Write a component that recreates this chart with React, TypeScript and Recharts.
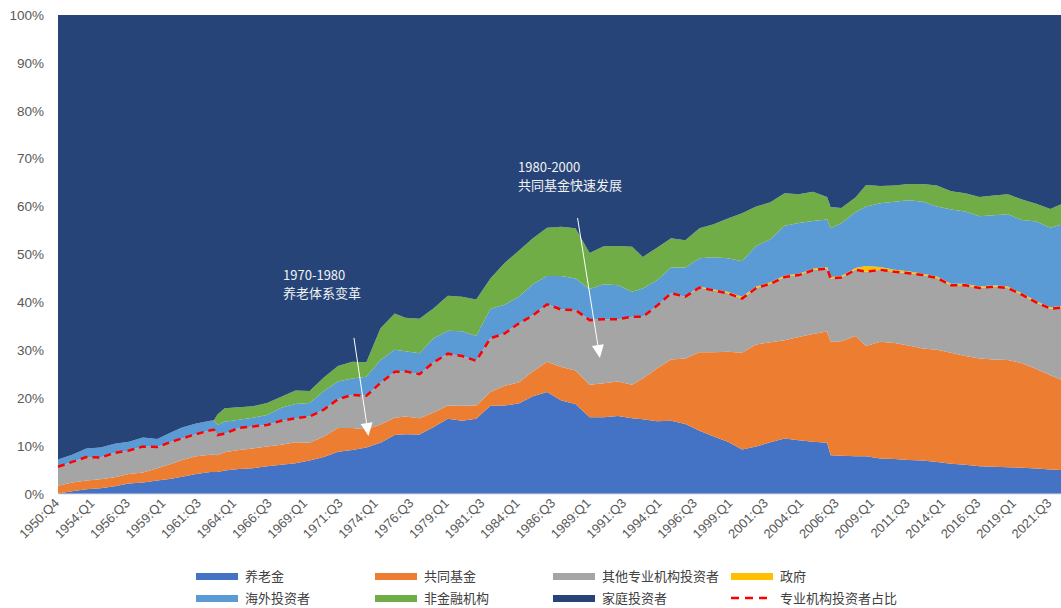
import React from 'react';
import { ComposedChart, Area, Line, XAxis, YAxis, ReferenceLine, ReferenceDot } from 'recharts';

// quarter index: 0 = 1950:Q4, 1 = 1951:Q4, 2 = 1952:Q1, then one step per quarter (283 = 2022:Q2)
const quarterIdx = [
  0, 4, 8, 12, 16, 20, 24, 28, 32, 35, 39, 43, 44, 45, 47, 51, 55, 59, 63, 67, 71, 75, 79, 83, 87,
  91, 95, 98, 102, 106, 110, 114, 118, 122, 126, 130, 134, 138, 142, 146, 150, 154, 158, 162, 165,
  169, 173, 177, 181, 185, 189, 193, 197, 201, 205, 209, 213, 217, 218, 221, 225, 228, 232, 236,
  240, 244, 248, 252, 256, 260, 264, 268, 272, 276, 280, 283,
];

// shares of US equity held, %
const pension = [
  0.1, 0.6, 1.0, 1.2, 1.6, 2.2, 2.4, 2.8, 3.2, 3.6, 4.2, 4.6, 4.6, 4.6, 4.9, 5.2, 5.4, 5.8, 6.1, 6.4,
  7.0, 7.7, 8.8, 9.2, 9.7, 10.7, 12.3, 12.5, 12.4, 14.0, 15.7, 15.3, 15.7, 18.4, 18.5, 18.9, 20.4,
  21.3, 19.5, 18.8, 16.0, 16.0, 16.3, 15.8, 15.6, 15.2, 15.3, 14.6, 13.2, 12.0, 10.9, 9.3, 9.9, 10.8,
  11.6, 11.2, 10.9, 10.7, 8.1, 8.0, 7.9, 7.9, 7.4, 7.3, 7.1, 7.0, 6.7, 6.3, 6.1, 5.8, 5.7, 5.6, 5.5,
  5.3, 5.1, 5.0,
];
const mutualFund = [
  1.6, 1.8, 1.8, 1.9, 1.9, 2.0, 2.1, 2.6, 3.1, 3.5, 3.7, 3.6, 3.6, 3.5, 3.8, 4.0, 4.1, 4.1, 4.2, 4.4,
  3.7, 4.3, 5.0, 4.6, 3.8, 3.8, 3.6, 3.7, 3.4, 3.0, 2.8, 3.1, 2.8, 2.9, 4.1, 4.4, 5.2, 6.3, 7.0, 7.0,
  6.8, 7.1, 7.2, 7.0, 8.5, 11.0, 12.8, 13.7, 16.4, 17.6, 18.8, 20.2, 21.3, 20.9, 20.5, 21.6, 22.5,
  23.2, 23.7, 23.9, 25.1, 23.0, 24.4, 24.2, 23.9, 23.4, 23.4, 23.2, 22.7, 22.5, 22.4, 22.4, 21.8,
  20.8, 19.7, 18.9,
];
const otherInst = [
  4.0, 4.3, 4.9, 4.5, 5.1, 4.9, 5.4, 4.4, 4.6, 4.5, 4.6, 5.1, 5.2, 4.2, 3.9, 4.6, 4.6, 4.5, 5.0, 5.0,
  5.5, 5.6, 6.0, 6.9, 7.0, 8.7, 9.6, 9.4, 9.2, 10.5, 10.8, 10.4, 9.3, 11.2, 10.9, 12.3, 11.7, 12.0,
  12.0, 12.6, 13.5, 13.4, 13.0, 14.2, 12.9, 13.1, 13.8, 12.9, 13.5, 12.9, 12.2, 11.3, 11.8, 12.2,
  13.2, 12.9, 13.3, 13.2, 13.2, 13.3, 13.8, 15.5, 15.0, 14.9, 15.1, 15.3, 15.0, 14.1, 14.8, 14.7,
  15.2, 15.0, 14.3, 13.9, 13.9, 15.0,
];
const government = [
  0, 0, 0, 0, 0, 0, 0, 0, 0, 0, 0, 0, 0, 0, 0, 0, 0, 0, 0, 0, 0, 0, 0, 0, 0, 0, 0, 0, 0, 0, 0, 0, 0,
  0, 0, 0, 0, 0, 0, 0, 0, 0, 0, 0, 0, 0, 0, 0, 0.2, 0.2, 0.3, 0.4, 0.3, 0.3, 0.3, 0.3, 0.3, 0.3, 0.3,
  0.3, 0.4, 1.2, 0.6, 0.4, 0.4, 0.3, 0.3, 0.3, 0.3, 0.3, 0.3, 0.3, 0.3, 0.3, 0.3, 0.3,
];
const foreignInv = [
  1.5, 1.5, 1.8, 2.1, 1.9, 1.8, 1.9, 1.7, 2.0, 2.3, 2.2, 2.0, 2.0, 2.1, 2.5, 1.7, 1.8, 2.1, 2.7, 3.0,
  2.8, 3.9, 3.7, 3.4, 4.0, 4.8, 4.6, 4.2, 4.4, 5.0, 4.8, 5.2, 5.2, 6.1, 6.0, 5.6, 6.5, 5.9, 7.0, 6.6,
  6.5, 7.3, 7.1, 5.2, 5.9, 5.3, 5.4, 6.1, 5.9, 6.7, 7.0, 7.4, 8.5, 9.0, 10.4, 10.6, 10.0, 9.9, 10.2,
  11.0, 11.6, 12.4, 13.3, 14.2, 14.8, 15.0, 14.6, 15.5, 15.1, 14.7, 14.6, 15.1, 15.3, 16.6, 16.6,
  17.0,
];
const nonFinancial = [
  0, 0, 0, 0, 0, 0, 0, 0, 0, 0, 0, 0, 0, 2.2, 2.8, 2.6, 2.4, 2.5, 2.3, 2.8, 2.5, 2.8, 3.2, 3.5, 3.0,
  6.6, 7.6, 7.0, 7.2, 6.3, 7.3, 7.2, 7.6, 6.4, 8.7, 9.6, 9.6, 10.1, 10.3, 10.5, 7.5, 7.9, 8.2, 9.4,
  6.6, 6.8, 6.1, 5.7, 6.3, 6.9, 8.3, 10.0, 8.2, 7.7, 6.8, 6.0, 6.1, 4.7, 4.4, 3.2, 3.1, 4.5, 3.6,
  3.4, 3.4, 3.7, 4.4, 3.8, 3.8, 4.0, 4.1, 4.2, 4.3, 3.7, 3.9, 4.3,
];
const household = [
  92.8, 91.8, 90.5, 90.3, 89.5, 89.1, 88.2, 88.5, 87.1, 86.1, 85.3, 84.7, 84.6, 83.4, 82.1, 81.9,
  81.7, 81.0, 79.7, 78.4, 78.5, 75.7, 73.3, 72.4, 72.5, 65.4, 62.3, 63.2, 63.4, 61.2, 58.6, 58.8,
  59.4, 55.0, 51.8, 49.2, 46.6, 44.4, 44.2, 44.5, 49.7, 48.3, 48.2, 48.4, 50.5, 48.6, 46.6, 47.0,
  44.5, 43.7, 42.5, 41.4, 40.0, 39.1, 37.2, 37.4, 36.9, 38.0, 40.1, 40.3, 38.1, 35.5, 35.7, 35.6,
  35.3, 35.3, 35.6, 36.8, 37.2, 38.0, 37.7, 37.4, 38.5, 39.4, 40.5, 39.5,
];

const tickIdx = [
  0, 10, 20, 30, 40, 50, 60, 70, 80, 90, 100, 110, 120, 130, 140, 150, 160, 170, 180, 190, 200, 210,
  220, 230, 240, 250, 260, 270, 280,
];
const tickLabels = [
  '1950:Q4', '1954:Q1', '1956:Q3', '1959:Q1', '1961:Q3', '1964:Q1', '1966:Q3', '1969:Q1', '1971:Q3',
  '1974:Q1', '1976:Q3', '1979:Q1', '1981:Q3', '1984:Q1', '1986:Q3', '1989:Q1', '1991:Q3', '1994:Q1',
  '1996:Q3', '1999:Q1', '2001:Q3', '2004:Q1', '2006:Q3', '2009:Q1', '2011:Q3', '2014:Q1', '2016:Q3',
  '2019:Q1', '2021:Q3',
];
const pctTicks = [0, 10, 20, 30, 40, 50, 60, 70, 80, 90, 100];

const series = [
  { key: 'pension', name: '养老金', color: '#4472C4' },
  { key: 'fund', name: '共同基金', color: '#ED7D31' },
  { key: 'other', name: '其他专业机构投资者', color: '#A5A5A5' },
  { key: 'gov', name: '政府', color: '#FFC000' },
  { key: 'foreign', name: '海外投资者', color: '#5B9BD5' },
  { key: 'nonfin', name: '非金融机构', color: '#70AD47' },
  { key: 'household', name: '家庭投资者', color: '#264478' },
];
const lineName = '专业机构投资者占比';

// annotations, in data coordinates (quarter index, %)
const notes = [
  { text: ['1970-1980', '养老体系变革'], at: { x: 63.5, y: 44.6 }, from: { x: 83.5, y: 32.6 }, to: { x: 87.6, y: 12.1 } },
  { text: ['1980-2000', '共同基金快速发展'], at: { x: 129.8, y: 67.2 }, from: { x: 146.6, y: 57.6 }, to: { x: 152.9, y: 28.4 } },
];

const rows = quarterIdx.map((q, i) => ({
  q,
  pension: pension[i],
  fund: mutualFund[i],
  other: otherInst[i],
  gov: government[i],
  foreign: foreignInv[i],
  nonfin: nonFinancial[i],
  household: household[i],
  inst: Math.round((pension[i] + mutualFund[i] + otherInst[i]) * 10) / 10,
}));

const FONT = '"Liberation Sans", Arial, "Noto Sans CJK SC", sans-serif';
const CJK = '"Noto Sans CJK SC", "Liberation Sans", sans-serif';

function QuarterTick({ x, y, payload }: any) {
  const label = tickLabels[tickIdx.indexOf(payload.value)];
  return (
    <text
      x={x + 2}
      y={y + 2}
      textAnchor="end"
      fill="#595959"
      fontSize={13}
      fontFamily={FONT}
      transform={`rotate(-45, ${x + 2}, ${y + 2})`}
    >
      {label}
    </text>
  );
}

function Arrow(props: any) {
  const { x1, y1, x2, y2 } = props;
  const dx = x2 - x1;
  const dy = y2 - y1;
  const len = Math.sqrt(dx * dx + dy * dy);
  const ux = dx / len;
  const uy = dy / len;
  const bx = x2 - ux * 13;
  const by = y2 - uy * 13;
  return (
    <g>
      <line x1={x1} y1={y1} x2={bx} y2={by} stroke="#FFFFFF" strokeWidth={1} />
      <polygon
        points={`${x2},${y2} ${bx - uy * 6},${by + ux * 6} ${bx + uy * 6},${by - ux * 6}`}
        fill="#FFFFFF"
      />
    </g>
  );
}

function NoteText(lines: string[]) {
  return (props: any) => (
    <g>
      {lines.map((t, k) => (
        <text key={k} x={props.cx} y={props.cy + k * 18} fill="#F2F2F2" fontSize={13} fontFamily={CJK}>
          {t}
        </text>
      ))}
    </g>
  );
}

function LegendBox() {
  const cols = [196, 375, 553, 731];
  const items = [
    ...series.map((s) => ({ name: s.name, color: s.color, dashed: false })),
    { name: lineName, color: '#FF0000', dashed: true },
  ];
  return (
    <>
      {items.map((it, k) => {
        const left = cols[k % 4];
        const top = k < 4 ? 569 : 591;
        return (
          <div
            key={it.name}
            style={{ position: 'absolute', left, top, height: 14, display: 'flex', alignItems: 'center' }}
          >
            {it.dashed ? (
              <svg width={42} height={6} style={{ display: 'block' }}>
                <line x1={0} y1={3} x2={42} y2={3} stroke={it.color} strokeWidth={2.5} strokeDasharray="8 6" />
              </svg>
            ) : (
              <div style={{ width: 42, height: 7, background: it.color }} />
            )}
            <span
              style={{
                marginLeft: 7,
                fontSize: 13,
                lineHeight: '14px',
                color: '#404040',
                fontFamily: CJK,
                whiteSpace: 'nowrap',
              }}
            >
              {it.name}
            </span>
          </div>
        );
      })}
    </>
  );
}

export default function App() {
  return (
    <div
      style={{ position: 'absolute', left: 0, top: 0, width: 1061, height: 608, background: '#FFFFFF', overflow: 'hidden' }}
    >
      <ComposedChart width={1061} height={608} data={rows} margin={{ top: 15, right: 0, left: 0, bottom: 0 }}>
        <XAxis
          dataKey="q"
          type="number"
          domain={[0, 283]}
          ticks={tickIdx}
          interval={0}
          height={114}
          tick={<QuarterTick />}
          tickLine={false}
          axisLine={{ stroke: '#D9D9D9' }}
        />
        <YAxis
          type="number"
          domain={[0, 100]}
          ticks={pctTicks}
          allowDataOverflow
          width={58}
          tickFormatter={(v) => `${v}%`}
          tick={{ fontSize: 13.5, fill: '#595959', fontFamily: FONT }}
          tickLine={false}
          axisLine={false}
          tickSize={0}
          tickMargin={14}
        />
        {series.map((s) => (
          <Area
            key={s.key}
            type="linear"
            dataKey={s.key}
            name={s.name}
            stackId="holders"
            fill={s.color}
            fillOpacity={1}
            stroke="none"
            isAnimationActive={false}
          />
        ))}
        <Line
          type="linear"
          dataKey="inst"
          name={lineName}
          stroke="#FF0000"
          strokeWidth={2.5}
          strokeDasharray="7 5"
          dot={false}
          activeDot={false}
          isAnimationActive={false}
        />
        {notes.map((n, k) => (
          <ReferenceLine key={`a${k}`} segment={[n.from, n.to]} shape={Arrow} ifOverflow="visible" />
        ))}
        {notes.map((n, k) => (
          <ReferenceDot key={`t${k}`} x={n.at.x} y={n.at.y} r={0} shape={NoteText(n.text)} ifOverflow="visible" />
        ))}
      </ComposedChart>
      <LegendBox />
    </div>
  );
}
